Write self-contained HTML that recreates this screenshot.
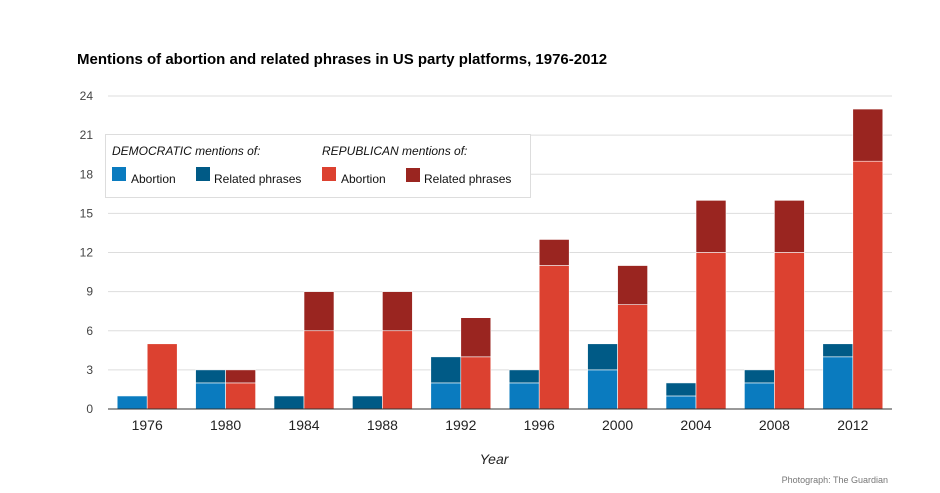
<!DOCTYPE html>
<html><head><meta charset="utf-8"><style>
body{margin:0;background:#fff;}
svg text{font-family:"Liberation Sans",Arial,sans-serif;}
</style></head><body>
<svg width="940" height="488" viewBox="0 0 940 488" xmlns="http://www.w3.org/2000/svg">
<rect width="940" height="488" fill="#fff"/>
<text x="77" y="64" font-size="15" font-weight="bold" fill="#000">Mentions of abortion and related phrases in US party platforms, 1976-2012</text>
<g id="grid"></g>
<g id="bars"></g>
<g id="xlabels"></g>
<line x1="108" y1="409" x2="892" y2="409" stroke="#333" stroke-width="1"/>
<text x="494" y="464" font-size="14" font-style="italic" fill="#222" text-anchor="middle">Year</text>
<g>
<rect x="105.5" y="134.5" width="425" height="63" fill="#fff" stroke="#ddd"/>
<text x="112" y="155" font-size="12" font-style="italic" fill="#111">DEMOCRATIC mentions of:</text>
<text x="322" y="155" font-size="12" font-style="italic" fill="#111">REPUBLICAN mentions of:</text>
<rect x="112" y="167" width="14" height="14" fill="#0a7bbf"/>
<text x="131" y="183" font-size="12" fill="#111">Abortion</text>
<rect x="196" y="167" width="14" height="14" fill="#005a86"/>
<text x="214" y="183" font-size="12" fill="#111">Related phrases</text>
<rect x="322" y="167" width="14" height="14" fill="#dc4130"/>
<text x="341" y="183" font-size="12" fill="#111">Abortion</text>
<rect x="406" y="168" width="14" height="14" fill="#9a2520"/>
<text x="424" y="183" font-size="12" fill="#111">Related phrases</text>
</g>
<text x="888" y="483" font-size="9" fill="#777" text-anchor="end">Photograph: The Guardian</text>
</svg>
<script>
const years=['1976','1980','1984','1988','1992','1996','2000','2004','2008','2012'];
const demAbortion=[1,2,0,0,2,2,3,1,2,4];
const demRelated=[0,1,1,1,2,1,2,1,1,1];
const repAbortion=[5,2,6,6,4,11,8,12,12,19];
const repRelated=[0,1,3,3,3,2,3,4,4,4];
const yTicks=[0,3,6,9,12,15,18,21,24];
const NS='http://www.w3.org/2000/svg';
const x0=108,x1=892,yb=409,yt=96,ymax=24;
const band=(x1-x0)/years.length;
const y=v=>yb-(yb-yt)*v/ymax;
const cx=i=>x0+band*(i+0.5);
function mk(t,a,p){const e=document.createElementNS(NS,t);for(const k in a)e.setAttribute(k,a[k]);p.appendChild(e);return e;}
const grid=document.getElementById('grid');
yTicks.forEach(v=>{
 if(v>0){const l=mk('line',{x1:x0,x2:x1,y1:y(v),y2:y(v),stroke:'#ddd'},grid);
 
 }
 const t=mk('text',{x:93,y:y(v)+4,'font-size':12,fill:'#444','text-anchor':'end'},grid);
 t.textContent=v;
 
 
});
const bars=document.getElementById('bars'),xl=document.getElementById('xlabels');
const w=30;
years.forEach((yr,i)=>{
 const c=cx(i);
 const segs=[[c-w,0,demAbortion[i],'#0a7bbf','dem-abortion'],[c-w,demAbortion[i],demAbortion[i]+demRelated[i],'#005a86','dem-related'],
 [c,0,repAbortion[i],'#dc4130','rep-abortion'],[c,repAbortion[i],repAbortion[i]+repRelated[i],'#9a2520','rep-related']];
 segs.forEach(s=>{
  if(s[2]-s[1]<=0)return;
  const r=mk('rect',{x:s[0],y:y(s[2]),width:w,height:y(s[1])-y(s[2]),fill:s[3],stroke:'#fff','stroke-width':0.6},bars);
  
  
 });
 const t=mk('text',{x:c,y:430,'font-size':14,fill:'#222','text-anchor':'middle'},xl);
 t.textContent=yr;
 
 
});
</script>
</body></html>
